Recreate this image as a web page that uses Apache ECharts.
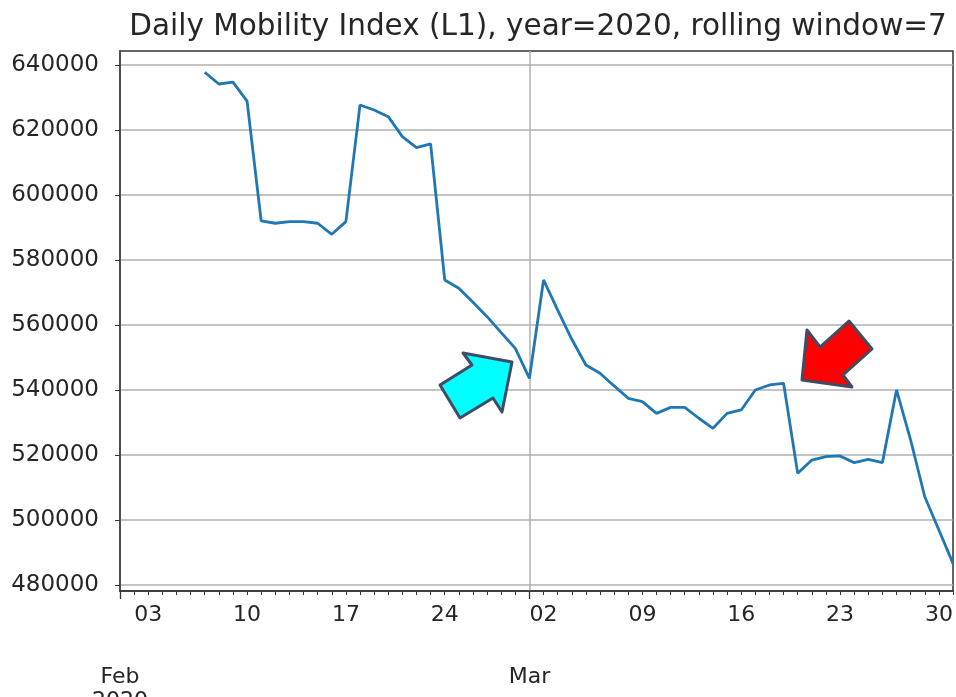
<!DOCTYPE html>
<html>
<head>
<meta charset="utf-8">
<script src="https://cdn.jsdelivr.net/npm/echarts@6/dist/echarts.min.js"></script>
<style>
  html, body { margin: 0; padding: 0; background: #fff; }
  #chart { width: 956px; height: 697px; }
</style>
</head>
<body>
<div id="chart"></div>
<script>
// days shown on the x axis (Feb 1 .. Mar 31, 2020)
var days = [
  '2020-02-01','2020-02-02','2020-02-03','2020-02-04','2020-02-05','2020-02-06','2020-02-07',
  '2020-02-08','2020-02-09','2020-02-10','2020-02-11','2020-02-12','2020-02-13','2020-02-14',
  '2020-02-15','2020-02-16','2020-02-17','2020-02-18','2020-02-19','2020-02-20','2020-02-21',
  '2020-02-22','2020-02-23','2020-02-24','2020-02-25','2020-02-26','2020-02-27','2020-02-28',
  '2020-02-29','2020-03-01','2020-03-02','2020-03-03','2020-03-04','2020-03-05','2020-03-06',
  '2020-03-07','2020-03-08','2020-03-09','2020-03-10','2020-03-11','2020-03-12','2020-03-13',
  '2020-03-14','2020-03-15','2020-03-16','2020-03-17','2020-03-18','2020-03-19','2020-03-20',
  '2020-03-21','2020-03-22','2020-03-23','2020-03-24','2020-03-25','2020-03-26','2020-03-27',
  '2020-03-28','2020-03-29','2020-03-30','2020-03-31'
];

// rolling mean (window = 7), first six days are empty
var mobility = [
  null, null, null, null, null, null, 637750,
  634150, 634700, 628900, 592000, 591300, 591800, 591800,
  591300, 587900, 591800, 627700, 626150, 624100, 617950,
  614550, 615700, 573850, 571300, 567000, 562550, 557650,
  552800, 543600, 573850, 564600, 555600, 547700, 545150,
  541250, 537450, 536400, 532800, 534650, 534650, 531300,
  528200, 532800, 533850, 540000, 541550, 542050, 514350,
  518450, 519500, 519700, 517650, 518650, 517650, 540000,
  524600, 507150, 496900, 486650
];

// labelled weekly ticks (Mondays) and month ticks
var weekTicks = {
  '2020-02-03': '03', '2020-02-10': '10', '2020-02-17': '17', '2020-02-24': '24',
  '2020-03-02': '02', '2020-03-09': '09', '2020-03-16': '16', '2020-03-23': '23',
  '2020-03-30': '30'
};
var monthTicks = { '2020-02-01': ['Feb', '2020'], '2020-03-01': ['Mar'] };

var yTicks = [480000, 500000, 520000, 540000, 560000, 580000, 600000, 620000, 640000];

var textColor = '#262626';
var font = 'DejaVu Sans';

var myChart = echarts.init(document.getElementById('chart'));

var option = {
  animation: false,
  backgroundColor: '#fff',
  title: {
    text: 'Daily Mobility Index (L1), year=2020, rolling window=7',
    left: 533,
    textAlign: 'center',
    top: 7,
    textStyle: { fontFamily: font, fontSize: 29.5, fontWeight: 'normal', color: textColor }
  },
  grid: {
    left: 120, right: 3, top: 51, bottom: 106,
    outerBoundsMode: 'none',
    containLabel: false,
    show: true, borderColor: '#333', borderWidth: 1.5, backgroundColor: '#fff'
  },
  xAxis: [{
    type: 'category',
    data: days,
    boundaryGap: false,
    axisLine: { lineStyle: { color: '#333', width: 1.5 } },
    axisTick: { interval: 0, length: 4, lineStyle: { color: '#333' } },
    splitLine: { show: false },
    axisLabel: {
      interval: 0,
      margin: 13,
      fontFamily: font,
      fontSize: 22,
      color: textColor,
      formatter: function (v) {
        if (weekTicks[v]) return weekTicks[v];
        if (monthTicks[v]) {
          return '{s| }\n' + monthTicks[v].map(function (t) { return '{m|' + t + '}'; }).join('\n');
        }
        return '';
      },
      rich: {
        s: { lineHeight: 61, fontSize: 22 },
        m: { lineHeight: 24, fontSize: 22, fontFamily: font, color: textColor }
      }
    }
  }, {
    // month (major) ticks and gridline
    type: 'category',
    data: days,
    boundaryGap: false,
    position: 'bottom',
    axisLine: { show: false },
    axisLabel: { show: false },
    axisTick: {
      interval: function (i, v) { return !!monthTicks[v]; },
      length: 8, lineStyle: { color: '#333', width: 1.3 }
    },
    splitLine: {
      show: true,
      interval: function (i, v) { return !!monthTicks[v]; },
      lineStyle: { color: '#b0b0b0', width: 1.5 }
    }
  }],
  yAxis: {
    type: 'value',
    min: 478150,
    max: 644300,
    axisLine: { show: true, lineStyle: { color: '#333', width: 1.5 } },
    axisTick: { show: true, length: 5, customValues: yTicks, lineStyle: { color: '#333' } },
    axisLabel: {
      customValues: yTicks,
      margin: 21,
      fontFamily: font,
      fontSize: 23,
      color: textColor,
      formatter: function (v) { return String(v); }
    },
    splitLine: { show: true, lineStyle: { color: '#b0b0b0', width: 1.5 } }
  },
  series: [{
    type: 'line',
    data: mobility,
    showSymbol: false,
    symbol: 'none',
    connectNulls: false,
    lineStyle: { color: '#1f77b4', width: 2.8 },
    z: 5
  }],
  graphic: [{
    // cyan arrow
    type: 'polygon',
    z: 100,
    shape: { points: [[512, 362], [502, 412], [493, 398], [460, 418], [440, 385], [472, 365], [463, 353]] },
    style: { fill: '#00ffff', stroke: '#3e4d63', lineWidth: 3, lineJoin: 'round' }
  }, {
    // red arrow
    type: 'polygon',
    z: 100,
    shape: { points: [[802, 380], [807, 330], [820, 347], [849, 321], [872, 349], [843, 375], [852, 387]] },
    style: { fill: '#ff0000', stroke: '#3e4d63', lineWidth: 3, lineJoin: 'round' }
  }]
};

myChart.setOption(option);
</script>
</body>
</html>
